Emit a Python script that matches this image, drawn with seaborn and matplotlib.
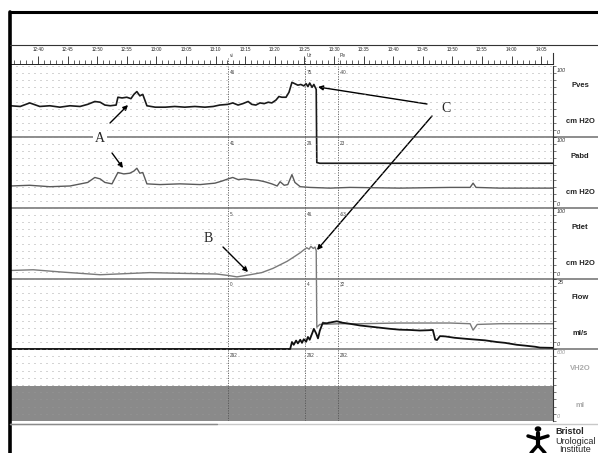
import numpy as np
import pandas as pd
import matplotlib
matplotlib.use("Agg")
import matplotlib.pyplot as plt
import seaborn as sns
from matplotlib.lines import Line2D
from matplotlib.patches import Circle
from matplotlib.transforms import blended_transform_factory

# time in minutes after 12:40
time_labels = ["12:40", "12:45", "12:50", "12:55", "13:00", "13:05", "13:10", "13:15", "13:20",
               "13:25", "13:30", "13:35", "13:40", "13:45", "13:50", "13:55", "14:00", "14:05"]

pves_t = [-4.7, -3.0, -1.4, 0.3, 2.0, 3.7, 5.4, 7.1, 8.4, 9.6, 10.5, 11.3, 12.2, 13.2, 13.5,
          14.2, 15.0, 15.7, 16.2, 16.7, 17.2, 17.7, 18.4, 19.8, 21.5, 23.1, 24.8, 26.5, 28.2, 29.6,
          30.7, 32.1, 32.9, 33.8, 34.6, 35.5, 36.1, 36.8, 37.5, 38.2, 38.9, 39.5, 40.2, 40.7, 41.2,
          41.9, 42.4, 42.9, 43.4, 43.9, 44.4, 44.9, 45.3, 45.6, 45.9, 46.3, 46.6, 47.0, 47.1, 47.6, 87.0]
pves = [44, 43, 48, 43, 44, 42, 44, 43, 46, 50, 49, 45, 44, 45, 56,
        55, 56, 54, 60, 64, 58, 60, 44, 42, 42, 43, 42, 43, 42, 43,
        45, 46, 48, 45, 47, 50, 46, 45, 48, 47, 49, 48, 52, 57, 56,
        56, 63, 77, 75, 73, 74, 72, 75, 71, 76, 70, 74, 67, -36, -37, -37]

pabd_t = [-4.7, -1.4, 2.0, 5.4, 8.4, 9.6, 10.5, 11.3, 12.5, 13.5, 14.5, 15.5, 16.2, 16.7, 17.2,
          17.7, 18.4, 20.6, 24.0, 27.4, 29.9, 31.1, 32.1, 32.9, 33.8, 35.0, 35.8, 37.2, 38.3, 39.5,
          40.4, 40.9, 41.6, 42.2, 42.9, 43.4, 44.3, 45.9, 49.3, 52.7, 61.1, 69.6, 73.0, 73.5, 74.0,
          78.0, 87.0]
pabd = [31, 32, 30, 31, 36, 43, 41, 36, 34, 50, 48, 49, 52, 56, 49,
        50, 34, 33, 34, 33, 35, 38, 41, 43, 40, 41, 40, 39, 37, 34,
        31, 37, 32, 33, 47, 36, 30, 29, 28, 29, 28, 29, 29, 35, 29,
        28, 28]

pdet_t = [-4.7, -0.8, 3.7, 8.8, 10.5, 18.9, 24.0, 30.2, 32.1, 33.6, 35.8, 37.8, 39.7, 40.9, 42.1,
          43.4, 44.3, 44.9, 45.4, 45.8, 46.1, 46.5, 46.8, 47.0, 47.1, 47.6, 51.0, 54.4, 61.1, 69.6,
          73.0, 73.5, 74.2, 78.0, 87.0]
pdet = [12, 13, 10, 7, 6, 9, 8, 7, 5, 3, 6, 9, 15, 20, 25,
        32, 37, 41, 44, 42, 46, 43, 45, 40, -68, -64, -63, -63, -62, -62,
        -63, -72, -64, -63, -63]

flow_t = [-4.7, 42.6, 42.9, 43.2, 43.6, 43.9, 44.3, 44.6, 44.9, 45.3, 45.6, 45.9, 46.3, 46.6, 47.0,
          47.3, 47.6, 48.1, 48.8, 49.7, 50.5, 51.4, 52.7, 54.4, 56.1, 57.8, 59.5, 61.1, 62.8, 64.5,
          65.9, 66.7, 67.1, 67.4, 67.9, 68.8, 70.4, 72.5, 75.5, 77.5, 78.9, 80.9, 82.3, 84.0, 84.8, 87.0]
flow = [0, 0, 2.5, 1.5, 3.0, 2.0, 3.3, 2.2, 3.5, 2.6, 4.3, 3.3, 5.5, 7.2, 5.5,
        3.8, 6.5, 9.3, 9.2, 9.6, 9.9, 9.4, 9.0, 8.4, 8.0, 7.6, 7.2, 6.9, 6.8, 6.6,
        6.7, 6.8, 3.4, 3.2, 4.6, 4.5, 4.0, 3.6, 3.1, 2.5, 2.2, 1.5, 1.2, 0.8, 0.5, 0.4]

vol_t = [-4.7, 87.0]
vol = [292, 292]

events = ["vi", "Ur", "Pe"]
event_t = [32.1, 45.1, 50.7]
pves_ev = ["46", "75", "-40"]
pabd_ev = ["41", "29", "23"]
pdet_ev = ["5", "46", "-63"]
flow_ev = ["0", "4", "32"]
vol_ev = ["292", "292", "292"]

sns.set_style("white")
plt.rcParams["font.family"] = ["Liberation Sans", "DejaVu Sans"]

W, H = 598, 453
X0, X1 = 10, 553
T0, T1 = -4.73, 87.0

fig = plt.figure(figsize=(W / 100, H / 100), dpi=100)


def rect(top, bottom):
    return [X0 / W, 1 - bottom / H, (X1 - X0) / W, (bottom - top) / H]


def fig_line(xs, ys, **kw):
    fig.add_artist(Line2D([x / W for x in xs], [1 - y / H for y in ys], **kw))


# ruler with time labels
rax = fig.add_axes(rect(53, 64))
rax.patch.set_alpha(0)
rax.set_xlim(T0, T1)
rax.set_ylim(0, 1)
for s in ["top", "left"]:
    rax.spines[s].set_visible(False)
rax.spines["bottom"].set_linewidth(0.7)
rax.spines["bottom"].set_color("#222")
rax.spines["right"].set_linewidth(0.8)
rax.spines["right"].set_color("#333")
rax.set_xticks(np.arange(0, 90, 5))
rax.set_xticklabels(time_labels)
rax.set_xticks(np.arange(-4, 87, 1), minor=True)
rax.set_yticks([])
rax.tick_params(axis="x", which="major", direction="in", length=6, width=0.6, color="#222",
                bottom=True, top=False, labelbottom=False, labeltop=True, labelsize=3.3, pad=1)
rax.tick_params(axis="x", which="minor", direction="in", length=3, width=0.5, color="#222",
                bottom=True, top=False)
btr = blended_transform_factory(rax.transData, rax.transAxes)
for name, t in zip(events, event_t):
    rax.axvline(t, ymax=0.55, color="#555", lw=0.6, ls=(0, (1.5, 1.5)))
    rax.text(t + 0.3, 0.98, name, transform=btr, fontsize=3.5, va="top", color="#333")

channels = [
    ("Pves", 66, 137, 100, pves_ev, "cm H2O"),
    ("Pabd", 137, 208, 100, pabd_ev, "cm H2O"),
    ("Pdet", 208, 279, 100, pdet_ev, "cm H2O"),
    ("Flow", 279, 349, 25, flow_ev, "ml/s"),
    ("VH2O", 349, 421, 600, vol_ev, "ml"),
]
axes = {}
for name, top, bot, ymax, ev, unit in channels:
    ax = fig.add_axes(rect(top, bot))
    ax.patch.set_alpha(0)
    ax.set_xlim(T0, T1)
    ax.set_ylim(0, ymax)
    for s in ["top", "left", "bottom"]:
        ax.spines[s].set_visible(False)
    ax.spines["right"].set_linewidth(0.8)
    ax.spines["right"].set_color("#333")
    ax.set_xticks([])
    ax.yaxis.tick_right()
    ax.set_yticks(np.linspace(0, ymax, 11))
    ax.set_yticklabels([])
    ax.tick_params(axis="y", direction="out", length=2.5, width=0.5, colors="#444",
                   right=True, left=False)
    ax.grid(axis="y", color="#9a9a9a", lw=0.6, ls=(0, (1.2, 6.0)))
    ax.set_xlabel("")
    ax.set_ylabel("")
    bt = blended_transform_factory(ax.transData, ax.transAxes)
    for t, lab in zip(event_t, ev):
        ax.axvline(t, color="#555", lw=0.6, ls=(0, (1.5, 1.5)))
        ax.text(t + 0.3, 0.95, lab, transform=bt, fontsize=3.3, va="top", color="#444")
    light = name == "VH2O"
    fig.text(557 / W, 1 - (top + 4) / H, str(ymax), fontsize=4, style="italic",
             color="#999" if light else "#333", va="center")
    fig.text(557 / W, 1 - (bot - 4) / H, "0", fontsize=4, style="italic",
             color="#999" if light else "#333", va="center")
    h = bot - top
    fig.text(580 / W, 1 - (top + h * 0.27) / H, name, fontsize=5.5, weight="bold",
             color="#aaa" if light else "#222", ha="center", va="center")
    fig.text(580 / W, 1 - (top + h * 0.78) / H, unit, fontsize=5.5, weight="bold",
             color="#aaa" if light else "#222", ha="center", va="center")
    axes[name] = ax

sns.lineplot(x=pabd_t, y=pabd, ax=axes["Pabd"], color="#5a5a5a", lw=1.0,
             estimator=None, sort=False, clip_on=False)
sns.lineplot(x=pdet_t, y=pdet, ax=axes["Pdet"], color="#7a7a7a", lw=1.0,
             estimator=None, sort=False, clip_on=False)
sns.lineplot(x=flow_t, y=flow, ax=axes["Flow"], color="#111", lw=1.3,
             estimator=None, sort=False, clip_on=False)
sns.lineplot(x=pves_t, y=pves, ax=axes["Pves"], color="#1a1a1a", lw=1.2,
             estimator=None, sort=False, clip_on=False)
vax = axes["VH2O"]
vax.fill_between(vol_t, 0, vol, color="#8a8a8a", lw=0)
vax.set_axisbelow(False)

# channel separators (under the traces)
for y in [137, 208, 279, 349]:
    fig_line([X0, W], [y, y], color="#8c8c8c", lw=1.4, zorder=-1)

# page frame
fig_line([X0, W], [12, 12], color="black", lw=2.2)
fig_line([X0, X0], [12, H], color="black", lw=2.6)
fig_line([X0, W], [45, 45], color="#333", lw=0.8)
fig_line([X0, W], [424, 424], color="#c8c8c8", lw=1.0)
fig_line([X0, 217], [424, 424], color="#8a8a8a", lw=1.0)

# annotations
serif = ["Liberation Serif", "DejaVu Serif"]
fig.text(100 / W, 1 - 138 / H, "A", family=serif, fontsize=10, ha="center", va="center",
         bbox=dict(facecolor="white", edgecolor="none", pad=1.5))
fig.text(208 / W, 1 - 238 / H, "B", family=serif, fontsize=10, ha="center", va="center")
fig.text(446 / W, 1 - 108 / H, "C", family=serif, fontsize=10, ha="center", va="center")
arrows = [((110, 123), (128, 105)), ((112, 153), (123, 168)), ((223, 247), (248, 272)),
          ((427, 104), (318, 87)), ((432, 116), (317, 250))]
for (x1, y1), (x2, y2) in arrows:
    rax.annotate("", xy=(x2, H - y2), xytext=(x1, H - y1), xycoords="figure pixels",
                 textcoords="figure pixels",
                 arrowprops=dict(arrowstyle="-|>", color="black", lw=1.0, mutation_scale=7,
                                 shrinkA=0, shrinkB=0))

# logo
fig.add_artist(Circle((538 / W, 1 - 429 / H), 2.6 / W, color="black",
                      transform=fig.transFigure))
fig_line([538, 538], [433, 446], color="black", lw=3)
fig_line([528, 538, 548], [436, 439, 436], color="black", lw=2.5)
fig_line([531, 538, 545], [453, 445, 453], color="black", lw=2.5)
fig.text(555 / W, 1 - 431 / H, "Bristol", fontsize=6.5, weight="bold", va="center")
fig.text(555 / W, 1 - 441 / H, "Urological", fontsize=6.5, va="center")
fig.text(559 / W, 1 - 450 / H, "Institute", fontsize=6.5, va="center")

fig.savefig("out.png", dpi=100)
